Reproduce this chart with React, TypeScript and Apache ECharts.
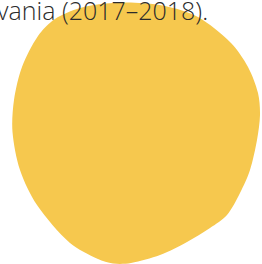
import React, { useEffect, useRef } from "react";
import * as echarts from "echarts";

const captionText = "vania (2017–2018).";
const blobOutline: number[][] = [
  [131, 2.5], [165, 6], [198, 17], [231, 43], [248, 67], [258, 93], [260, 115],
  [257, 140], [250, 170], [240, 193], [227, 215], [210, 228], [187, 242],
  [160, 255], [131, 263], [113, 263.5], [98, 259], [70, 243], [37, 205], [20, 170],
  [12.5, 132], [14, 100], [22, 67], [38, 36], [55, 19], [80, 8], [105, 3.5],
];

export default function App() {
  const ref = useRef<HTMLDivElement>(null);
  useEffect(() => {
    if (!ref.current) return;
    const chart = echarts.init(ref.current, undefined, { renderer: "svg" });
    chart.setOption({
      animation: false,
      backgroundColor: "#ffffff",
      graphic: [
        {
          type: "polygon",
          z: 1,
          shape: { points: blobOutline, smooth: 0.3 },
          style: { fill: "#F6C84E" },
        },
        {
          type: "text",
          z: 10,
          x: -3,
          y: 10,
          style: {
            text: captionText,
            fill: "#2b2b2b",
            font: "300 25px 'Open Sans'",
            verticalAlign: "middle",
            align: "left",
          },
        },
      ],
    });
    return () => chart.dispose();
  }, []);
  return (
    <div
      ref={ref}
      style={{ position: "absolute", left: 0, top: 0, width: 262, height: 264 }}
    />
  );
}
